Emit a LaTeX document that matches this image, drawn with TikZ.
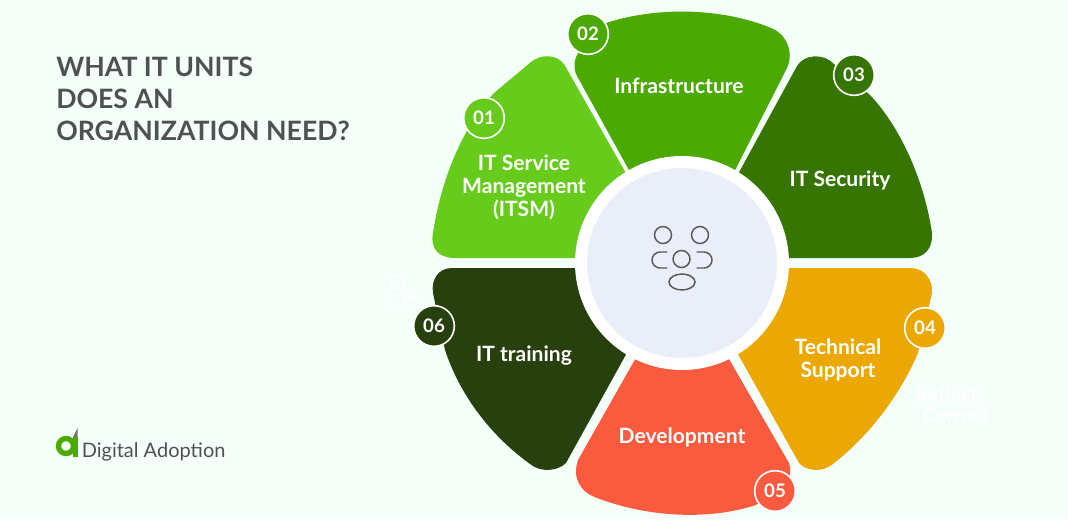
\documentclass[tikz,border=0pt]{standalone}
\usepackage{fontspec}
\setmainfont{Lato}
\definecolor{pagebg}{HTML}{F5FFF9}
\definecolor{itsmgreen}{HTML}{66CB1B}
\definecolor{infragreen}{HTML}{4CA902}
\definecolor{secgreen}{HTML}{367501}
\definecolor{supportamber}{HTML}{EBA702}
\definecolor{devred}{HTML}{FA5B3F}
\definecolor{traingreen}{HTML}{27400E}
\definecolor{hubblue}{HTML}{E9EEF8}
\definecolor{titlegrey}{HTML}{505153}
\tikzset{
    badge/.style={circle,draw=white,line width=1.2pt,minimum size=30.5pt,inner sep=0pt,text=white,font=\fontsize{14}{14}\selectfont\bfseries},
    unitlabel/.style={align=center,text=white,font=\fontsize{15.8}{17.3}\selectfont\bfseries},
    hubicon/.style={draw=black!65,line width=1.1pt,line cap=round},
    ghostmark/.style={draw=white,line width=1.1pt,line cap=round},
    ghostlabel/.style={anchor=west,inner sep=0pt,text=white,font=\fontsize{15}{15}\selectfont\bfseries}
}
\begin{document}
\begin{tikzpicture}[x=0.75pt,y=-0.75pt]
    \useasboundingbox (0,0) rectangle (1068,519);
    \fill [pagebg] (0,0) rectangle (1068,519);

    % faint leftovers on the background
    \draw [ghostmark] (398,282) circle (7);
    \draw [ghostmark] (413,303) circle (7);
    \draw [ghostmark] (398,295) -- (393,295) arc (-90:-270:7) -- (398,309);
    \node [ghostlabel] (reflect) at (915,394) {Reflect};
    \node [ghostlabel] (correct) at (922,415) {Correct};

    % petals
    \fill [itsmgreen] (600,258) -- (455,258) .. controls (438,258) and (430,248) .. (433,233)
        .. controls (441,180) and (462,128) .. (494,93) -- (531,62)
        .. controls (541,54) and (556,54) .. (564,64) -- (640,198) -- cycle;
    \fill [infragreen] (640,190) -- (577,76) .. controls (573,69) and (574,60) .. (578,53)
        -- (606,23) .. controls (655,7) and (720,7) .. (771,28)
        .. controls (787,34) and (794,53) .. (787,68) -- (725,190) -- cycle;
    \fill [secgreen] (725,198) -- (797,66) .. controls (804,54) and (824,53) .. (834,64)
        -- (870,95) .. controls (903,130) and (925,185) .. (932,233)
        .. controls (933,248) and (925,258) .. (910,258) -- (770,258) -- cycle;
    \fill [supportamber] (730,340) -- (770,268) -- (910,268)
        .. controls (925,268) and (933,280) .. (932,293) -- (918,353)
        .. controls (900,395) and (870,435) .. (833,464)
        .. controls (822,473) and (806,471) .. (799,463) -- cycle;
    \fill [devred] (646,340) -- (718,340) -- (789,463) .. controls (791,468) and (790,475) .. (789,480)
        -- (756,505) .. controls (710,520) and (650,518) .. (597,498)
        .. controls (580,492) and (572,478) .. (578,460) -- cycle;
    \fill [traingreen] (634,340) -- (600,268) -- (452,268)
        .. controls (438,268) and (431,280) .. (433,293) -- (445,350)
        .. controls (460,395) and (490,435) .. (530,464)
        .. controls (541,473) and (558,471) .. (566,463) -- cycle;

    % hub
    \fill [white] (682,263) circle (107);
    \fill [hubblue] (682,263) circle (95);
    \draw [hubicon] (663,235) circle (8.5);
    \draw [hubicon] (700,235) circle (8.5);
    \draw [hubicon] (681.5,259) circle (8.5);
    \draw [hubicon] (682,282) ellipse (13 and 8);
    \draw [hubicon] (667,252) -- (660,252) arc (-90:-270:8) -- (667,268);
    \draw [hubicon] (697,252) -- (704,252) arc (-90:90:8) -- (697,268);

    % labels
    \node [unitlabel] (itsm) at (524,187) {IT Service\\Management\\(ITSM)};
    \node [unitlabel] (infra) at (679,86) {Infrastructure};
    \node [unitlabel] (sec) at (840,180) {IT Security};
    \node [unitlabel] (support) at (838,360) {Technical\\Support};
    \node [unitlabel] (dev) at (682,437) {Development};
    \node [unitlabel] (train) at (524,356) {IT training};

    % number badges
    \node [badge,fill=itsmgreen] (b01) at (484,118) {01};
    \node [badge,fill=infragreen] (b02) at (588,34) {02};
    \node [badge,fill=secgreen] (b03) at (854,75) {03};
    \node [badge,fill=supportamber] (b04) at (925,328) {04};
    \node [badge,fill=devred] (b05) at (775,491) {05};
    \node [badge,fill=traingreen] (b06) at (434,326) {06};

    % title
    \node [anchor=north west,inner sep=0pt,align=left,text=titlegrey,font=\fontsize{20}{24}\selectfont\bfseries] (title) at (56,56.5) {WHAT IT UNITS\\DOES AN\\ORGANIZATION NEED?};

    % logo
    \draw [infragreen,line width=4pt] (66,446) circle (7.5);
    \fill [infragreen] (72.5,437) -- (77.5,437) -- (77.5,457) -- (72.5,457) -- cycle;
    \fill [black!55] (73,437) -- (77.5,428) -- (77.5,437) -- cycle;
    \node [anchor=west,inner sep=0pt,text=titlegrey,font=\fontsize{15}{15}\selectfont] (logo) at (81.5,452) {Digital Adoption};
\end{tikzpicture}
\end{document}
